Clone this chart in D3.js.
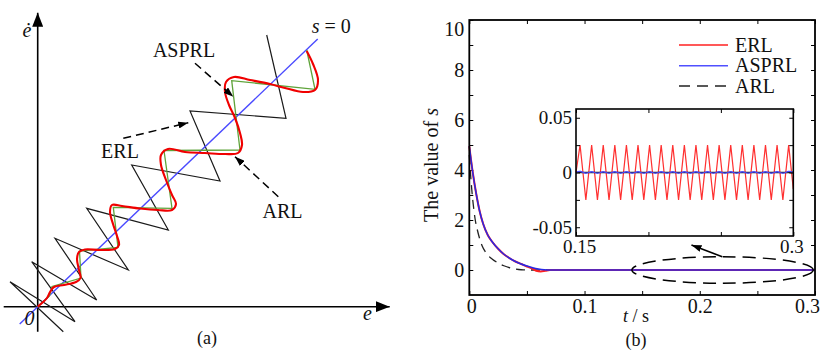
<!DOCTYPE html>
<html><head><meta charset="utf-8">
<script src="https://cdn.jsdelivr.net/npm/d3@7"></script>
<style>
body{margin:0;background:#fff}
svg{display:block}
text{font-family:"Liberation Serif","Times New Roman",serif;fill:#111}
</style>
</head><body>
<svg id="c" width="826" height="357"></svg>
<script>
// ---------- Panel (a) data (phase plane e, ė) ----------
const erlE  = [2.56,-2.77,3.73,-0.60,5.90,1.73,9.06,4.90,13.06,9.40,18.23,15.23,24.83,22.90];
const erlEd = [-2.50,2.50,-1.50,4.50,0.67,6.84,3.67,9.84,7.67,14.17,12.57,19.57,18.84,27.17];

const arlE  = [26.90,27.73,19.40,20.23,12.63,13.43,7.56,8.03,4.18,4.33,1.43,1.18,0];
const arlEd = [25.67,21.74,22.60,15.67,15.62,9.84,9.94,5.92,5.57,2.87,2.02,1.07,0];

const asprlE  = [26.90,27.53,28.03,27.73,26.53,24.73,23.23,21.23,19.63,18.83,18.73,19.13,19.73,20.23,20.43,20.03,18.73,16.73,14.73,13.03,12.33,12.33,12.83,13.43,13.83,13.43,12.03,10.23,8.43,7.43,7.23,7.53,7.93,8.13,7.73,6.23,4.73,4.13,3.93,4.13,4.28,3.83,2.63,1.63,1.23,0.93,0.43,0];
const asprlEd = [25.57,24.27,22.67,21.67,21.47,21.87,22.27,22.67,22.97,22.47,21.47,20.17,18.87,17.37,16.17,15.37,15.27,15.37,15.47,15.77,15.17,14.17,12.67,11.17,10.27,9.67,9.67,9.82,10.07,10.17,9.47,8.27,7.07,6.17,5.77,5.67,5.72,5.47,4.77,3.67,2.87,2.47,2.17,1.97,1.47,0.87,0.37,0];

const sLineE  = [-1.80, 28.00];
const sLineEd = [-1.72, 26.77];

// ---------- Panel (b) data (s vs t) ----------
const tASPRL = [0,0.003,0.006,0.009,0.012,0.016,0.02,0.025,0.03,0.035,0.04,0.045,0.05,0.055,0.06,0.065,0.07,0.3];
const sASPRL = [4.95,3.9,3.05,2.35,1.85,1.4,1.12,0.85,0.63,0.47,0.34,0.24,0.16,0.09,0.04,0.01,0,0];

const tERL = [0,0.003,0.006,0.009,0.012,0.016,0.02,0.025,0.03,0.035,0.04,0.045,0.05,0.055,0.058,0.062,0.066,0.07,0.3];
const sERL = [4.95,3.9,3.05,2.35,1.85,1.4,1.12,0.85,0.63,0.47,0.34,0.24,0.14,0.05,-0.03,-0.06,-0.03,0,0];

const tARL = [0,0.001,0.002,0.003,0.004,0.005,0.007,0.009,0.011,0.014,0.017,0.02,0.025,0.03,0.035,0.04,0.045,0.05,0.3];
const sARL = [4.6,3.9,3.3,2.8,2.4,2.05,1.6,1.25,0.98,0.72,0.55,0.43,0.28,0.17,0.09,0.04,0.01,0,0];

// inset (zoom of 0.15 – 0.3 s)
const tInset = [0.15,0.1528,0.1568,0.1608,0.1648,0.1688,0.1728,0.1768,0.1808,0.1848,0.1888,0.1928,0.1968,0.2008,0.2048,0.2088,0.2128,0.2168,0.2208,0.2248,0.2288,0.2328,0.2368,0.2408,0.2448,0.2488,0.2528,0.2568,0.2608,0.2648,0.2688,0.2728,0.2768,0.2808,0.2848,0.2888,0.2928,0.2968,0.3];
const sInsetERL = [0,0.025,-0.025,0.025,-0.025,0.025,-0.025,0.025,-0.025,0.025,-0.025,0.025,-0.025,0.025,-0.025,0.025,-0.025,0.025,-0.025,0.025,-0.025,0.025,-0.025,0.025,-0.025,0.025,-0.025,0.025,-0.025,0.025,-0.025,0.025,-0.025,0.025,-0.025,0.025,-0.025,0.025,-0.015];
const sInsetASPRL = [0,0.002,-0.002,0.002,-0.002,0.002,-0.002,0.002,-0.002,0.002,-0.002,0.002,-0.002,0.002,-0.002,0.002,-0.002,0.002,-0.002,0.002,-0.002,0.002,-0.002,0.002,-0.002,0.002,-0.002,0.002,-0.002,0.002,-0.002,0.002,-0.002,0.002,-0.002,0.002,-0.002,0.002,0];
const tInsetARL = [0.15,0.3];
const sInsetARL = [0,0];

const yTicks = [0,1,2,3,4,5,6,7,8,9,10];
const yTickLabels = {0:"0",2:"2",4:"4",6:"6",8:"8",10:"10"};
const xTicks = [0,0.05,0.1,0.15,0.2,0.25,0.3];
const xTickLabels = {0:"0",0.1:"0.1",0.2:"0.2",0.3:"0.3"};
const yInsetTicks = [-0.05,-0.025,0,0.025,0.05];
const yInsetLabels = {"-0.05":"-0.05","0":"0","0.05":"0.05"};
const xInsetTicks = [0.15,0.2,0.25,0.3];
const xInsetLabels = {"0.15":"0.15","0.3":"0.3"};

const legendNames = ["ERL","ASPRL","ARL"];

// ---------- Drawing ----------
const svg = d3.select("#c");
const defs = svg.append("defs");
function marker(id, L, W){
  defs.append("marker").attr("id",id)
    .attr("viewBox",`0 0 ${L} ${W}`).attr("refX",L).attr("refY",W/2)
    .attr("markerWidth",L).attr("markerHeight",W)
    .attr("markerUnits","userSpaceOnUse").attr("orient","auto")
    .append("path").attr("d",`M0,0L${L},${W/2}L0,${W}Z`).attr("fill","#000");
}
marker("ahBig",14,11);
marker("ahSmall",10,7);

// ===== Panel (a) =====
const xA = d3.scaleLinear().domain([0,35]).range([37.7,387.7]);
const yA = d3.scaleLinear().domain([0,29]).range([306.7,16.7]);
const gA = svg.append("g");

gA.append("line").attr("x1",xA(-3.4)).attr("y1",yA(0)).attr("x2",xA(35.2)).attr("y2",yA(0))
  .attr("stroke","#000").attr("stroke-width",1.6).attr("marker-end","url(#ahBig)");
gA.append("line").attr("x1",xA(0)).attr("y1",yA(-2.5)).attr("x2",xA(0)).attr("y2",yA(29.4))
  .attr("stroke","#000").attr("stroke-width",1.6).attr("marker-end","url(#ahBig)");

const lineA = d3.line().x(d=>xA(d[0])).y(d=>yA(d[1]));
const zip = (a,b)=>a.map((v,i)=>[v,b[i]]);

gA.append("path").attr("d",lineA(zip(erlE,erlEd))).attr("fill","none")
  .attr("stroke","#1a1a1a").attr("stroke-width",1.2).attr("stroke-linejoin","miter");
gA.append("path").attr("d",lineA(zip(sLineE,sLineEd))).attr("fill","none")
  .attr("stroke","#4a4aff").attr("stroke-width",1.4);
gA.append("path").attr("d",lineA(zip(arlE,arlEd))).attr("fill","none")
  .attr("stroke","#5ea33a").attr("stroke-width",1.3);
gA.append("path").attr("d",lineA.curve(d3.curveCatmullRom.alpha(0.5))(zip(asprlE,asprlEd))).attr("fill","none")
  .attr("stroke","#f00000").attr("stroke-width",2.1);
lineA.curve(d3.curveLinear);

function dashArrow(g,x,y,a,b){
  g.append("line").attr("x1",x(a[0])).attr("y1",y(a[1])).attr("x2",x(b[0])).attr("y2",y(b[1]))
   .attr("stroke","#000").attr("stroke-width",1.5).attr("stroke-dasharray","8,5")
   .attr("marker-end","url(#ahSmall)");
}
dashArrow(gA,xA,yA,[15.73,24.34],[19.56,21.0]);
dashArrow(gA,xA,yA,[8.56,16.84],[15.06,18.4]);
dashArrow(gA,xA,yA,[24.06,11.0],[19.73,15.0]);

const txt = (g,x,y,s,anchor,style,fs)=>g.append("text").attr("x",x).attr("y",y)
   .attr("text-anchor",anchor||"middle").attr("font-size",fs||20).attr("font-style",style||"normal").text(s);
txt(gA,xA(14.63),yA(24.97),"ASPRL");
txt(gA,xA(8.23),yA(14.87),"ERL");
txt(gA,xA(24.48),yA(8.87),"ARL");
const s0 = gA.append("text").attr("x",xA(27.4)).attr("y",yA(27.37)).attr("font-size",20);
s0.append("tspan").attr("font-style","italic").text("s");
s0.append("tspan").text(" = 0");
txt(gA,xA(-1.07),yA(26.97),"ė","middle","italic");
txt(gA,xA(32.98),yA(-1.33),"e","middle","italic");
txt(gA,xA(-0.82),yA(-1.83),"0","middle","italic");
txt(gA,207,344,"(a)","middle","normal",18);

// ===== Panel (b) =====
const x = d3.scaleLinear().domain([0,0.3]).range([469.3,815]);
const y = d3.scaleLinear().domain([-1,10]).range([295,20]);
const gB = svg.append("g");

function styleAxis(g, fs){
  g.select(".domain").remove();
  g.selectAll(".tick line").attr("stroke","#000").attr("stroke-width",1);
  g.selectAll("text").attr("font-size",fs).attr("font-family",'"Liberation Serif","Times New Roman",serif').attr("fill","#111");
}
const axL = gB.append("g").attr("transform",`translate(${x(0)},0)`)
  .call(d3.axisLeft(y).tickValues(yTicks).tickSize(-4).tickPadding(5).tickFormat(d=>yTickLabels[d]||""));
styleAxis(axL,20);
axL.selectAll(".tick").filter(d=>d===10).select("text").attr("dy","0.75em");
const axR = gB.append("g").attr("transform",`translate(${x(0.3)},0)`)
  .call(d3.axisRight(y).tickValues(yTicks).tickSize(-4).tickFormat(""));
styleAxis(axR,20);
const axB = gB.append("g").attr("transform",`translate(0,${y(-1)})`)
  .call(d3.axisBottom(x).tickValues(xTicks).tickSize(-4).tickPadding(4).tickFormat(d=>xTickLabels[d]||""));
styleAxis(axB,20);
axB.selectAll(".tick").filter(d=>d===0).select("text").attr("x",2);
axB.selectAll(".tick").filter(d=>d===0.3).select("text").attr("x",-8);
const axT = gB.append("g").attr("transform",`translate(0,${y(10)})`)
  .call(d3.axisTop(x).tickValues(xTicks).tickSize(-4).tickFormat(""));
styleAxis(axT,20);

const lineB = d3.line().x(d=>x(d[0])).y(d=>y(d[1])).curve(d3.curveMonotoneX);
gB.append("path").attr("d",lineB(zip(tARL,sARL))).attr("fill","none")
  .attr("stroke","#222").attr("stroke-width",1.3).attr("stroke-dasharray","9,6");
gB.append("path").attr("d",lineB(zip(tERL,sERL))).attr("fill","none")
  .attr("stroke","#ff2020").attr("stroke-width",2);
gB.append("path").attr("d",lineB(zip(tASPRL,sASPRL))).attr("fill","none")
  .attr("stroke","#2828e6").attr("stroke-width",1.5);

gB.append("rect").attr("x",x(0)).attr("y",y(10)).attr("width",x(0.3)-x(0)).attr("height",y(-1)-y(10))
  .attr("fill","none").attr("stroke","#000").attr("stroke-width",1.8);

gB.append("ellipse").attr("cx",x(0.2198)).attr("cy",y(0)).attr("rx",x(0.2985)-x(0.2198)).attr("ry",y(-0.53)-y(0))
  .attr("fill","none").attr("stroke","#000").attr("stroke-width",1.5).attr("stroke-dasharray","13,7");
gB.append("line").attr("x1",x(0.2195)).attr("y1",y(0.53)).attr("x2",x(0.1928)).attr("y2",y(1.0))
  .attr("stroke","#000").attr("stroke-width",1.6).attr("marker-end","url(#ahSmall)");

const legColors = ["#ff2020","#5050ff","#222"];
const legDash = [null,null,"11,7"];
const legY = [45,65.7,86];
legendNames.forEach((n,i)=>{
  gB.append("line").attr("x1",679).attr("x2",728).attr("y1",legY[i]).attr("y2",legY[i])
    .attr("stroke",legColors[i]).attr("stroke-width",1.5).attr("stroke-dasharray",legDash[i]);
  txt(gB,735,legY[i]+6.7,n,"start");
});

const yl = gB.append("text").attr("transform","translate(438,165) rotate(-90)")
  .attr("text-anchor","middle").attr("font-size",20);
yl.append("tspan").text("The value of ");
yl.append("tspan").attr("font-style","italic").text("s");
const xl = gB.append("text").attr("x",636).attr("y",322).attr("text-anchor","middle").attr("font-size",18);
xl.append("tspan").attr("font-style","italic").text("t");
xl.append("tspan").text(" / s");
txt(gB,636,346,"(b)","middle","normal",18);

// ===== Inset =====
const xi = d3.scaleLinear().domain([0.15,0.3]).range([576,793.3]);
const yi = d3.scaleLinear().domain([-0.058,0.058]).range([236,109]);
const gI = svg.append("g");
gI.append("rect").attr("x",xi(0.15)).attr("y",yi(0.058)).attr("width",xi(0.3)-xi(0.15)).attr("height",yi(-0.058)-yi(0.058))
  .attr("fill","#fff");
const lineI = d3.line().x(d=>xi(d[0])).y(d=>yi(d[1]));
gI.append("path").attr("d",lineI(zip(tInset,sInsetERL))).attr("fill","none")
  .attr("stroke","#ff3030").attr("stroke-width",1.2);
gI.append("path").attr("d",lineI(zip(tInsetARL,sInsetARL))).attr("fill","none")
  .attr("stroke","#222").attr("stroke-width",1.5);
gI.append("path").attr("d",lineI.curve(d3.curveBasis)(zip(tInset,sInsetASPRL))).attr("fill","none")
  .attr("stroke","#4a4aff").attr("stroke-width",1.3);

const iL = gI.append("g").attr("transform",`translate(${xi(0.15)},0)`)
  .call(d3.axisLeft(yi).tickValues(yInsetTicks).tickSize(-4).tickPadding(4).tickFormat(d=>yInsetLabels[String(d)]||""));
styleAxis(iL,19);
const iR = gI.append("g").attr("transform",`translate(${xi(0.3)},0)`)
  .call(d3.axisRight(yi).tickValues(yInsetTicks).tickSize(-4).tickFormat(""));
styleAxis(iR,19);
const iB = gI.append("g").attr("transform",`translate(0,${yi(-0.058)})`)
  .call(d3.axisBottom(xi).tickValues(xInsetTicks).tickSize(-4).tickPadding(4).tickFormat(d=>xInsetLabels[String(d)]||""));
styleAxis(iB,19);
iB.selectAll(".tick").filter(d=>d===0.15).select("text").attr("x",3);
iB.selectAll(".tick").filter(d=>d===0.3).select("text").attr("x",-2);
const iT = gI.append("g").attr("transform",`translate(0,${yi(0.058)})`)
  .call(d3.axisTop(xi).tickValues(xInsetTicks).tickSize(-4).tickFormat(""));
styleAxis(iT,19);
gI.append("rect").attr("x",xi(0.15)).attr("y",yi(0.058)).attr("width",xi(0.3)-xi(0.15)).attr("height",yi(-0.058)-yi(0.058))
  .attr("fill","none").attr("stroke","#000").attr("stroke-width",1.6);
</script>
</body></html>
